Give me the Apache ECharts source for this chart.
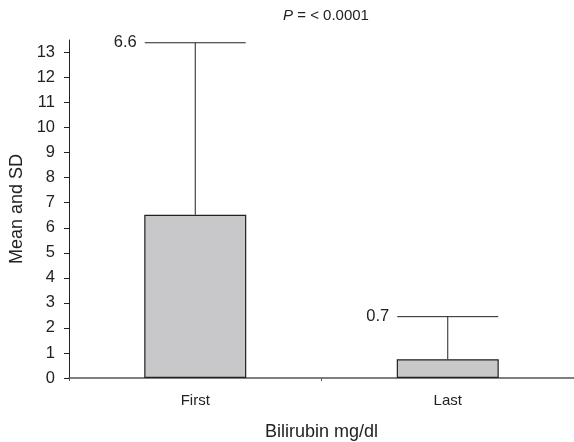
<!DOCTYPE html>
<html>
<head>
<meta charset="utf-8">
<script src="https://cdn.jsdelivr.net/npm/echarts@6/dist/echarts.min.js"></script>
<style>
  html, body { margin: 0; padding: 0; background: #fff; }
  #main { width: 574px; height: 442px; }
</style>
</head>
<body>
<div id="main"></div>
<script>
var categories = ['First', 'Last'];
var means = [6.52, 0.75];
var sds = [6.87, 1.7];
var barLabels = ['6.6', '0.7'];
var yTicks = [0, 1, 2, 3, 4, 5, 6, 7, 8, 9, 10, 11, 12, 13];

var myChart = echarts.init(document.getElementById('main'));

var errData = categories.map(function (c, i) {
  return [i, means[i], means[i] + sds[i], barLabels[i]];
});

myChart.setOption({
  animation: false,
  textStyle: { fontFamily: 'Liberation Sans, Arial, sans-serif' },
  title: {
    text: '{i|P} = < 0.0001',
    left: 321,
    top: 3,
    textAlign: 'center',
    textStyle: {
      fontSize: 15,
      fontWeight: 'normal',
      color: '#222',
      rich: {
        i: { fontStyle: 'italic', fontSize: 15, color: '#222' }
      }
    }
  },
  grid: { left: 69, right: 0, top: 40, bottom: 64, outerBoundsMode: 'none', containLabel: false },
  xAxis: {
    type: 'category',
    data: categories,
    name: 'Bilirubin mg/dl',
    nameLocation: 'middle',
    nameGap: 45,
    nameTextStyle: { fontSize: 18, color: '#222' },
    axisLine: { lineStyle: { color: '#555', width: 1.5 } },
    axisTick: { show: true, length: 3, lineStyle: { color: '#555' } },
    axisLabel: { fontSize: 15, color: '#222', margin: 15 }
  },
  yAxis: {
    type: 'value',
    min: 0,
    max: 13.5,
    interval: 1,
    name: 'Mean and SD',
    nameLocation: 'middle',
    nameGap: 43,
    nameTextStyle: { fontSize: 18, color: '#222' },
    splitLine: { show: false },
    axisLine: { show: true, lineStyle: { color: '#222', width: 1 } },
    axisTick: { show: true, length: 5, customValues: yTicks, lineStyle: { color: '#222' } },
    axisLabel: { fontSize: 16.5, color: '#222', margin: 14, customValues: yTicks }
  },
  series: [
    {
      type: 'bar',
      data: means,
      barWidth: 102,
      itemStyle: { color: '#c8c8ca', borderColor: '#222', borderWidth: 1.2 },
      z: 2
    },
    {
      type: 'custom',
      data: errData,
      z: 3,
      renderItem: function (params, api) {
        var x = api.value(0);
        var base = api.coord([x, api.value(1)]);
        var top = api.coord([x, api.value(2)]);
        var half = api.size([1, 0])[0] * 0.2;
        return {
          type: 'group',
          children: [
            { type: 'line', shape: { x1: base[0], y1: base[1], x2: top[0], y2: top[1] },
              style: { stroke: '#222', lineWidth: 1 } },
            { type: 'line', shape: { x1: top[0] - half, y1: top[1], x2: top[0] + half, y2: top[1] },
              style: { stroke: '#222', lineWidth: 1 } },
            { type: 'text', x: top[0] - half - 8, y: top[1],
              style: { text: api.value(3), fontSize: 16.5, fill: '#222', align: 'right', verticalAlign: 'middle',
                       fontFamily: 'Liberation Sans, Arial, sans-serif' } }
          ]
        };
      }
    }
  ]
});
</script>
</body>
</html>
